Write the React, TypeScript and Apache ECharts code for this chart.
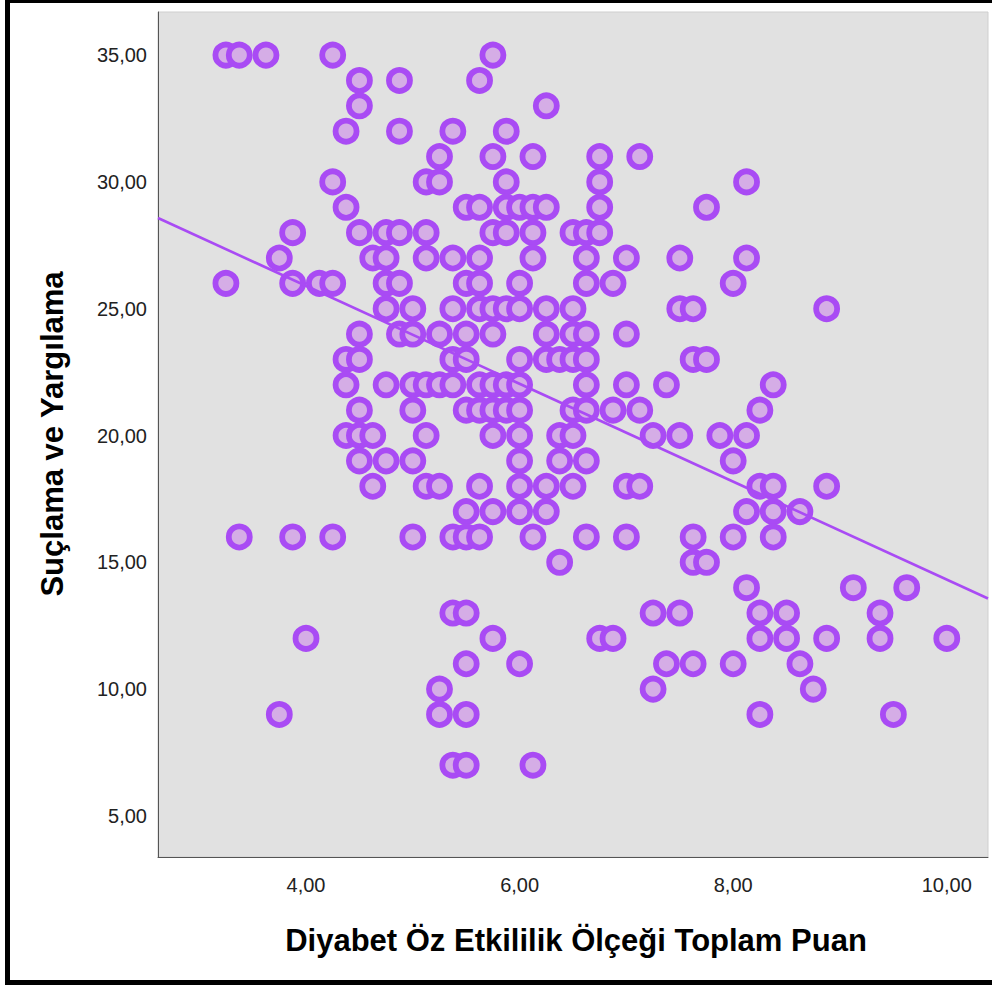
import React, { useEffect, useRef } from "react";
import * as echarts from "echarts";

// Y levels (Suçlama ve Yargılama) and the x values (Diyabet Öz Etkililik) observed at each level
const yLevels = [35, 34, 33, 32, 31, 30, 29, 28, 27, 26, 25, 24, 23, 22, 21, 20, 19, 18, 17, 16, 15, 14, 13, 12, 11, 10, 9, 7];
const xAtLevel: number[][] = [
  [3.25, 3.375, 3.625, 4.25, 5.75],
  [4.5, 4.875, 5.625],
  [4.5, 6.25],
  [4.375, 4.875, 5.375, 5.875],
  [5.25, 5.75, 6.125, 6.75, 7.125],
  [4.25, 5.125, 5.25, 5.875, 6.75, 8.125],
  [4.375, 5.5, 5.625, 5.875, 6.0, 6.125, 6.25, 6.75, 7.75],
  [3.875, 4.5, 4.75, 4.875, 5.125, 5.75, 5.875, 6.125, 6.5, 6.625, 6.75],
  [3.75, 4.625, 4.75, 5.125, 5.375, 5.625, 6.125, 6.625, 7.0, 7.5, 8.125],
  [3.25, 3.875, 4.125, 4.25, 4.75, 4.875, 5.5, 5.625, 6.0, 6.625, 6.875, 8.0],
  [4.75, 5.0, 5.375, 5.625, 5.75, 5.875, 6.0, 6.25, 6.5, 7.5, 7.625, 8.875],
  [4.5, 4.875, 5.0, 5.25, 5.5, 5.75, 6.25, 6.5, 6.625, 7.0],
  [4.375, 4.5, 5.375, 5.5, 6.0, 6.25, 6.375, 6.5, 6.625, 7.625, 7.75],
  [4.375, 4.75, 5.0, 5.125, 5.25, 5.375, 5.625, 5.75, 5.875, 6.0, 6.625, 7.0, 7.375, 8.375],
  [4.5, 5.0, 5.5, 5.625, 5.75, 5.875, 6.0, 6.5, 6.625, 6.875, 7.125, 8.25],
  [4.375, 4.5, 4.625, 5.125, 5.75, 6.0, 6.375, 6.5, 7.25, 7.5, 7.875, 8.125],
  [4.5, 4.75, 5.0, 6.0, 6.375, 6.625, 8.0],
  [4.625, 5.125, 5.25, 5.625, 6.0, 6.25, 6.5, 7.0, 7.125, 8.25, 8.375, 8.875],
  [5.5, 5.75, 6.0, 6.25, 8.125, 8.375, 8.625],
  [3.375, 3.875, 4.25, 5.0, 5.375, 5.5, 5.625, 6.125, 6.625, 7.0, 7.625, 8.0, 8.375],
  [6.375, 7.625, 7.75],
  [8.125, 9.125, 9.625],
  [5.375, 5.5, 7.25, 7.5, 8.25, 8.5, 9.375],
  [4.0, 5.75, 6.75, 6.875, 8.25, 8.5, 8.875, 9.375, 10.0],
  [5.5, 6.0, 7.375, 7.625, 8.0, 8.625],
  [5.25, 7.25, 8.75],
  [3.75, 5.25, 5.5, 8.25, 9.5],
  [5.375, 5.5, 6.125],
];

// Linear fit line
const fitIntercept = 33.62;
const fitSlope = -1.93;

// Axis ticks
const xTicks = [4, 6, 8, 10];
const yTicks = [5, 10, 15, 20, 25, 30, 35];
const xRange = [2.614, 10.386];
const yRange = [3.38, 36.7];

const xTitle = "Diyabet Öz Etkililik Ölçeği Toplam Puan";
const yTitle = "Suçlama ve Yargılama";

const PURPLE = "#A94BF4";
const FILL = "#D5ADE6";

const fmt = (v: number) => v.toFixed(2).replace(".", ",");

export default function App() {
  const ref = useRef<HTMLDivElement>(null);
  useEffect(() => {
    if (!ref.current) return;
    const chart = echarts.init(ref.current, undefined, { renderer: "svg" });
    const points: number[][] = [];
    yLevels.forEach((y, i) => xAtLevel[i].forEach((x) => points.push([x, y])));
    const fitLine = [
      [xRange[0], fitIntercept + fitSlope * xRange[0]],
      [xRange[1], fitIntercept + fitSlope * xRange[1]],
    ];
    chart.setOption({
      animation: false,
      backgroundColor: "#ffffff",
      grid: {
        left: 158,
        top: 12,
        width: 830,
        height: 845,
        show: true,
        backgroundColor: "#E1E1E1",
        borderColor: "#CFCFCF",
        borderWidth: 1,
      },
      xAxis: {
        type: "value",
        min: xRange[0],
        max: xRange[1],
        splitLine: { show: false },
        axisTick: { show: false },
        axisLine: { show: true, onZero: false, lineStyle: { color: "#555555", width: 1 } },
        axisLabel: {
          customValues: xTicks,
          formatter: fmt,
          color: "#222222",
          fontFamily: "Liberation Sans, Arial, sans-serif",
          fontSize: 20,
          margin: 18,
        },
      },
      yAxis: {
        type: "value",
        min: yRange[0],
        max: yRange[1],
        splitLine: { show: false },
        axisTick: { show: false },
        axisLine: { show: true, onZero: false, lineStyle: { color: "#555555", width: 1 } },
        axisLabel: {
          customValues: yTicks,
          formatter: fmt,
          color: "#222222",
          fontFamily: "Liberation Sans, Arial, sans-serif",
          fontSize: 20,
          margin: 11,
        },
      },
      graphic: [
        { type: "rect", shape: { x: 5, y: 0, width: 5, height: 985 }, style: { fill: "#000" } },
        { type: "rect", shape: { x: 5, y: 0, width: 987, height: 3 }, style: { fill: "#000" } },
        { type: "rect", shape: { x: 5, y: 980, width: 987, height: 5 }, style: { fill: "#000" } },
        {
          type: "text",
          x: 576,
          y: 940,
          style: {
            text: xTitle,
            fill: "#000",
            font: "bold 31px 'Liberation Sans', Arial, sans-serif",
            textAlign: "center",
            textVerticalAlign: "middle",
          },
        },
        {
          type: "text",
          x: 52,
          y: 434,
          rotation: Math.PI / 2,
          style: {
            text: yTitle,
            fill: "#000",
            font: "bold 31px 'Liberation Sans', Arial, sans-serif",
            textAlign: "center",
            textVerticalAlign: "middle",
          },
        },
      ],
      series: [
        {
          type: "scatter",
          data: points,
          symbol: "circle",
          symbolSize: 21,
          itemStyle: { color: FILL, borderColor: PURPLE, borderWidth: 5.8, opacity: 1 },
          z: 2,
        },
        {
          type: "line",
          data: fitLine,
          symbol: "none",
          lineStyle: { color: PURPLE, width: 2.6 },
          z: 3,
          clip: true,
        },
      ],
    });
    return () => chart.dispose();
  }, []);
  return <div ref={ref} style={{ position: "absolute", left: 0, top: 0, width: 992, height: 985 }} />;
}
